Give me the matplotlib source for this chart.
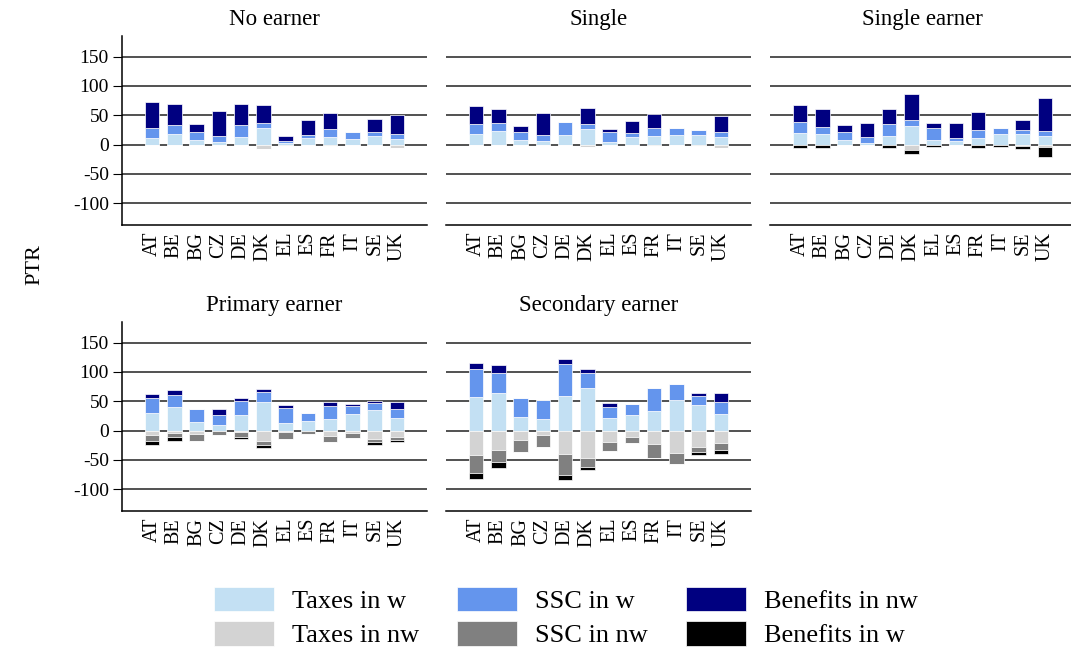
import matplotlib
matplotlib.use("Agg")
import matplotlib.pyplot as plt
from matplotlib.patches import Patch
import numpy as np

plt.rcParams['font.family'] = ['Liberation Serif', 'DejaVu Serif']

countries = ["AT", "BE", "BG", "CZ", "DE", "DK", "EL", "ES", "FR", "IT", "SE", "UK"]
panels = ["No earner", "Single", "Single earner", "Primary earner", "Secondary earner"]

# positive stack: taxes w, ssc w, benefits nw ; negative stack: taxes nw, ssc nw, benefits w
taxes_w = {
    "No earner":        [11, 18.5, 7.3, 4, 12.4, 28, 3, 11, 13.5, 9, 14, 10],
    "Single":           [17.9, 24, 7.8, 5.6, 15.6, 26.3, 4, 12.8, 14.5, 16.8, 16.2, 12.8],
    "Single earner":    [20.2, 17.4, 7.9, 2.2, 14.6, 31.5, 7.9, 5.6, 11.8, 17.4, 17.4, 14],
    "Primary earner":   [29.5, 40.3, 14.2, 9.7, 26.7, 48.3, 12.5, 17, 19.9, 28.4, 34.7, 21],
    "Secondary earner": [57, 63.8, 23.7, 19.2, 59.3, 72.9, 22, 27.1, 33.9, 52, 43.5, 28.8],
}
ssc_w = {
    "No earner":        [18, 14.1, 13.5, 10.6, 21.3, 8.5, 3.7, 6, 13.5, 11.8, 7.3, 8],
    "Single":           [17.9, 12.9, 13.4, 11.2, 23.5, 8.3, 16.7, 6.2, 14, 11.7, 8.9, 9],
    "Single earner":    [18.6, 12.9, 12.9, 10.7, 20.2, 10.1, 19.6, 5.6, 13.5, 11.3, 6.8, 8.5],
    "Primary earner":   [25.5, 21.1, 22.2, 17, 23.9, 17.6, 26.1, 12.5, 22.7, 14.2, 12.5, 16.5],
    "Secondary earner": [48, 34.5, 32.2, 32.8, 54.7, 25.4, 18.7, 18.1, 38.4, 28.2, 14.7, 20.4],
}
benefits_nw = {
    "No earner":        [43, 35.9, 14.6, 42.1, 36, 30.5, 8.3, 25.7, 26.4, 0, 22.5, 32.6],
    "Single":           [30.2, 23.4, 10.1, 36.8, 0, 28.5, 6.7, 21.2, 22.9, 0, 0, 26.2],
    "Single earner":    [28.1, 30.4, 11.8, 23.6, 25.9, 43.8, 9.6, 25.3, 29.7, 0, 18.5, 57.3],
    "Primary earner":   [7, 8.5, 0, 9.7, 4.4, 5.1, 5.2, 0, 6.8, 3.4, 3.9, 11.4],
    "Secondary earner": [9.7, 13, 0, 0, 8.6, 6.2, 5.6, 0, 0, 0, 5.1, 14.1],
}
taxes_nw = {
    "No earner":        [0, 0, 0, 0, 0, -6.7, -3, 0, -3, 0, 0, -5],
    "Single":           [0, 0, 0, 0, 0, -4.5, 0, 0, -2.8, 0, -2, -5],
    "Single earner":    [0, 0, 0, 0, 0, -9.6, 0, 0, 0, 0, -2, -3.9],
    "Primary earner":   [-7.4, -4.5, -6.3, -0.6, -2.8, -17.6, -2.3, 0, -8.5, -4, -14.8, -10.2],
    "Secondary earner": [-42.4, -32.8, -16.4, -6.8, -39.5, -47.5, -19.2, -10.2, -22.6, -39, -28.2, -20.9],
}
ssc_nw = {
    "No earner":        [0] * 12,
    "Single":           [0] * 12,
    "Single earner":    [0] * 12,
    "Primary earner":   [-10.2, -6.9, -10.7, -6.8, -7.4, -7.4, -12.5, -5.7, -10.3, -7.9, -4.5, -5.7],
    "Secondary earner": [-30.5, -20.9, -19.8, -21.4, -36.2, -14.6, -15.8, -11.3, -24.3, -18.6, -8, -12.4],
}
benefits_w = {
    "No earner":        [0] * 12,
    "Single":           [0] * 12,
    "Single earner":    [-6.2, -6.2, 0, 0, -6.2, -6.7, -3.9, 0, -5.6, -3.9, -5.9, -16.9],
    "Primary earner":   [-6.3, -6.8, 0, 0, -4.6, -4, 0, 0, 0, 0, -4.6, -4],
    "Secondary earner": [-9, -10.1, 0, 0, -7.9, -5.7, 0, 0, 0, 0, -5.6, -6.2],
}

labels = ["Taxes in w", "Taxes in nw", "SSC in w", "SSC in nw", "Benefits in nw", "Benefits in w"]
colors = {"Taxes in w": "#c3e0f3", "SSC in w": "#6495ed", "Benefits in nw": "#000080",
          "Taxes in nw": "#d3d3d3", "SSC in nw": "#808080", "Benefits in w": "#000000"}

fig = plt.figure(figsize=(10.71, 6.52), dpi=100)
W, H = 1071, 652
boxes = [(122, 36), (446, 36), (770, 36), (122, 322), (446, 322)]
aw, ah = 305, 189

x = np.arange(1, len(countries) + 1)
for name, (px, py) in zip(panels, boxes):
    ax = fig.add_axes([px / W, 1 - (py + ah) / H, aw / W, ah / H])
    for g in [-100, -50, 0, 50, 100, 150]:
        ax.axhline(g, color="#222222", lw=1.1, zorder=0)
    kw = dict(width=0.65, edgecolor="white", linewidth=0.5, zorder=2)
    tw = np.array(taxes_w[name]); sw = np.array(ssc_w[name]); bn = np.array(benefits_nw[name])
    tn = np.array(taxes_nw[name]); sn = np.array(ssc_nw[name]); bw = np.array(benefits_w[name])
    ax.bar(x, tw, color=colors["Taxes in w"], **kw)
    ax.bar(x, sw, bottom=tw, color=colors["SSC in w"], **kw)
    ax.bar(x, bn, bottom=tw + sw, color=colors["Benefits in nw"], **kw)
    ax.bar(x, tn, color=colors["Taxes in nw"], **kw)
    ax.bar(x, sn, bottom=tn, color=colors["SSC in nw"], **kw)
    ax.bar(x, bw, bottom=tn + sn, color=colors["Benefits in w"], **kw)
    ax.set_xlim(-0.35, 13.35)
    ax.set_ylim(-137, 185)
    ax.set_xticks(x)
    ax.set_xticklabels(countries, rotation=90, fontsize=14.5)
    ax.tick_params(axis="x", length=0, pad=5)
    ax.set_yticks([-100, -50, 0, 50, 100, 150])
    ax.set_yticklabels(["-100", "-50", "0", "50", "100", "150"], fontsize=14)
    ax.tick_params(axis="y", length=6.5, width=0.8, pad=3)
    for s in ["top", "right"]:
        ax.spines[s].set_visible(False)
    ax.spines["bottom"].set_linewidth(1.1)
    ax.spines["left"].set_linewidth(1.1)
    if px != 122:
        ax.spines["left"].set_visible(False)
        ax.tick_params(axis="y", left=False, labelleft=False)
    ax.set_title(name, fontsize=16.5, pad=8)

fig.text(35 / W, 1 - 265 / H, "PTR", rotation=90, fontsize=16, ha="center", va="center")

handles = [Patch(facecolor=colors[l], edgecolor="white", linewidth=0.5) for l in labels]
fig.legend(handles, labels, loc="center", bbox_to_anchor=(566 / W, 1 - 617 / H), ncol=3,
           frameon=False, fontsize=19, handlelength=2.27, handleheight=1.06,
           columnspacing=1.44, labelspacing=0.3, handletextpad=0.68)

fig.savefig("out.png", dpi=100)
